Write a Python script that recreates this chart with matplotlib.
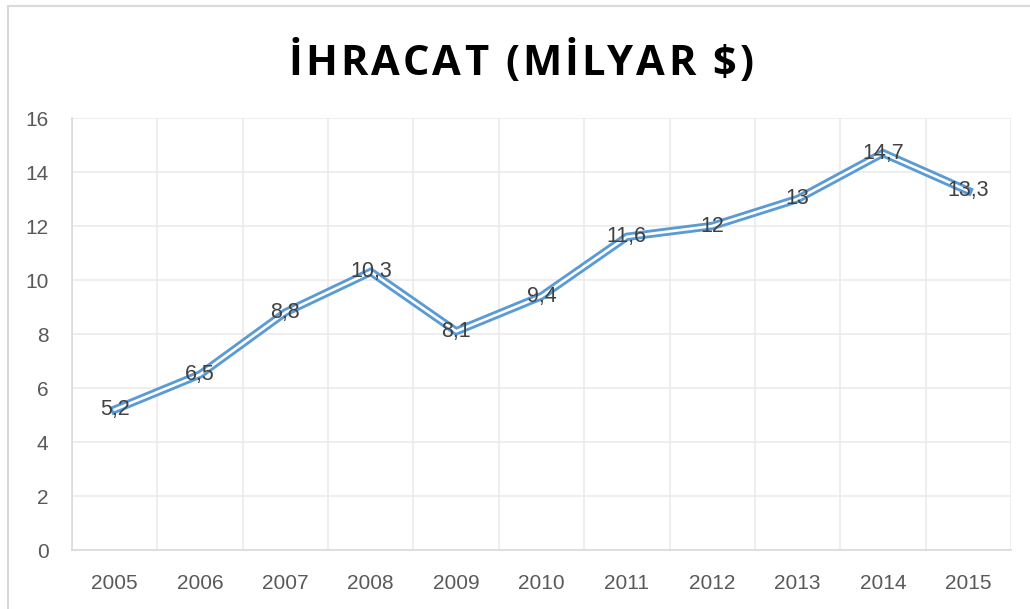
import matplotlib.pyplot as plt
import matplotlib.patches as mpatches
import numpy as np

plt.rcParams['font.family'] = ['Liberation Sans', 'DejaVu Sans']

years = ["2005", "2006", "2007", "2008", "2009", "2010", "2011", "2012", "2013", "2014", "2015"]
values = [5.2, 6.5, 8.8, 10.3, 8.1, 9.4, 11.6, 12, 13, 14.7, 13.3]
labels = ["5,2", "6,5", "8,8", "10,3", "8,1", "9,4", "11,6", "12", "13", "14,7", "13,3"]
title = "İHRACAT (MİLYAR $)"

W, H = 1030, 609
fig = plt.figure(figsize=(W / 100, H / 100), dpi=100)
ax = fig.add_axes([72 / W, 59 / H, (1011 - 72) / W, (550 - 118) / H])

# chart frame, cut off on the right/bottom like the screenshot
fig.patches.append(mpatches.Rectangle((8 / W, -0.1), 1.2, (H - 6) / H + 0.1,
                                      transform=fig.transFigure, fill=False,
                                      edgecolor="#d9d9d9", linewidth=1.5))

x = np.arange(len(years))
# double line: thick blue with a white core
ax.plot(x, values, color="#5b9bd5", linewidth=6.0, solid_joinstyle="miter", zorder=3)
ax.plot(x, values, color="white", linewidth=1.9, solid_joinstyle="miter", zorder=4)

for xi, v, lab in zip(x, values, labels):
    ax.text(xi, v, lab, ha="center", va="center", fontsize=15.5, color="#404040", zorder=5)

ax.set_xlim(-0.5, len(years) - 0.5)
ax.set_ylim(0, 16)
ax.set_yticks(np.arange(0, 17, 2))
ax.set_xticks(x)
ax.set_xticklabels(years)
ax.set_xticks(np.arange(-0.5, len(years), 1), minor=True)

ax.grid(axis="y", which="major", color="#ebebeb", linewidth=1.2)
ax.grid(axis="x", which="minor", color="#ebebeb", linewidth=1.2)
ax.set_axisbelow(True)
ax.tick_params(which="both", length=0)
ax.tick_params(axis="x", pad=17, labelsize=15, labelcolor="#595959")
ax.tick_params(axis="y", pad=17, labelsize=15, labelcolor="#595959")

for side in ["top", "right"]:
    ax.spines[side].set_visible(False)
for side in ["left", "bottom"]:
    ax.spines[side].set_color("#d9d9d9")
    ax.spines[side].set_linewidth(1.2)

# title with letter spacing: place each character by hand
renderer = fig.canvas.get_renderer()
tkw = dict(fontsize=30, fontweight="bold", color="black", family=["Open Sans", "DejaVu Sans"])
tracking = 3.0
widths = []
for ch in title:
    if ch == " ":
        t = fig.text(0, 0, "a a", **tkw)
        t2 = fig.text(0, 0, "aa", **tkw)
        w = t.get_window_extent(renderer).width - t2.get_window_extent(renderer).width
        t.remove(); t2.remove()
    else:
        t = fig.text(0, 0, ch, **tkw)
        w = t.get_window_extent(renderer).width
        t.remove()
    widths.append(w)
total = sum(widths) + tracking * (len(title) - 1)
cx = 521
xpos = cx - total / 2
for ch, w in zip(title, widths):
    if ch != " ":
        fig.text(xpos / W, 1 - 75 / H, ch, ha="left", va="baseline", **tkw)
    xpos += w + tracking

fig.savefig("out.png", dpi=100)
